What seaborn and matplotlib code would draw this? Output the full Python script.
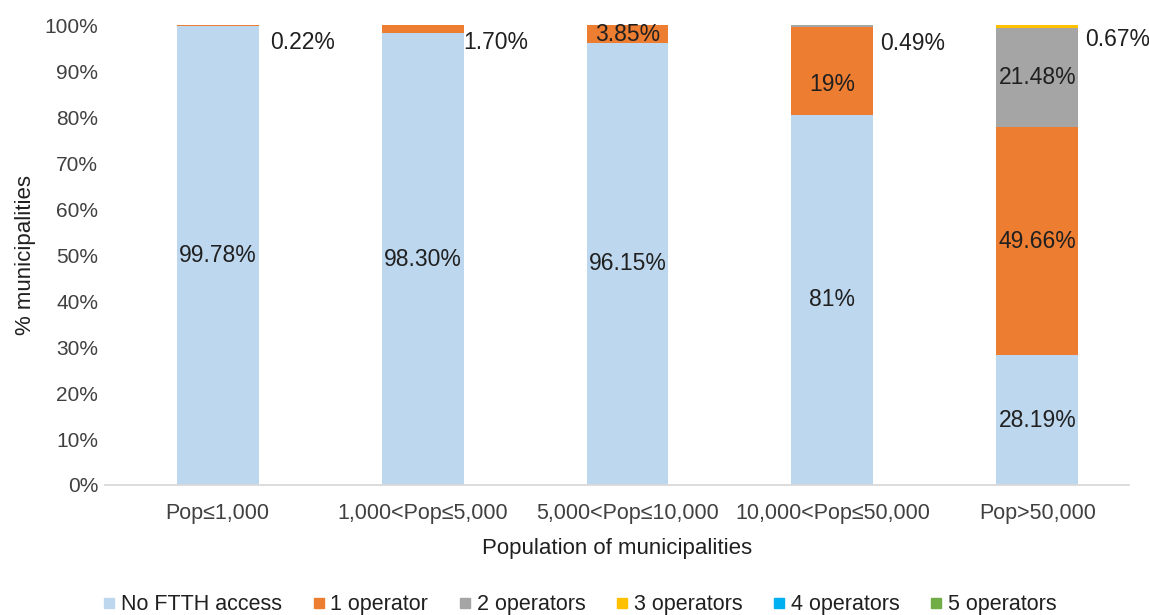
import matplotlib
matplotlib.use("Agg")
import matplotlib.pyplot as plt
import numpy as np
import pandas as pd
import seaborn as sns
from matplotlib.lines import Line2D

# Share of municipalities by number of FTTH operators, per population band
categories = ["Pop≤1,000", "1,000<Pop≤5,000", "5,000<Pop≤10,000",
              "10,000<Pop≤50,000", "Pop>50,000"]
series_names = ["No FTTH access", "1 operator", "2 operators",
                "3 operators", "4 operators", "5 operators"]
no_ftth = [99.78, 98.30, 96.15, 80.51, 28.19]
op1 = [0.22, 1.70, 3.85, 19.00, 49.66]
op2 = [0.00, 0.00, 0.00, 0.49, 21.48]
op3 = [0.00, 0.00, 0.00, 0.00, 0.67]
op4 = [0.00, 0.00, 0.00, 0.00, 0.00]
op5 = [0.00, 0.00, 0.00, 0.00, 0.00]
colors = ["#BDD7EE", "#ED7D31", "#A5A5A5", "#FFC000", "#00B0F0", "#70AD47"]

series = [no_ftth, op1, op2, op3, op4, op5]

sns.set_theme(style="white")
plt.rcParams["font.family"] = ["Liberation Sans", "DejaVu Sans"]

fig = plt.figure(figsize=(11.49, 6.15), dpi=100)
ax = fig.add_axes([0.0914, 0.2114, 0.8916, 0.7476])

# Stacked bars, each series sitting on the running total of the ones below
df = pd.DataFrame({"category": categories})
base = np.zeros(len(categories))
for k, vals in enumerate(series):
    vals = np.array(vals)
    if vals.sum() > 0:
        df["value"] = vals
        sns.barplot(data=df, x="category", y="value", color=colors[k],
                    saturation=1, width=0.4, ax=ax, linewidth=0,
                    order=categories, bottom=base.copy())
    base = base + vals

ax.set_xlim(-0.55, 4.45)
ax.set_ylim(0, 100)
ax.set_yticks(np.arange(0, 101, 10))
ax.set_yticklabels([f"{v}%" for v in range(0, 101, 10)], fontsize=15,
                   color="#404040")
ax.tick_params(axis="x", labelsize=15.5, colors="#404040", length=0, pad=13)
ax.tick_params(axis="y", length=0, pad=5)
for side in ["top", "right", "left"]:
    ax.spines[side].set_visible(False)
ax.spines["bottom"].set_color("#D9D9D9")
ax.spines["bottom"].set_linewidth(1.3)
ax.set_xlabel("Population of municipalities", fontsize=16, color="#202020",
              labelpad=10)
ax.set_ylabel("% municipalities", fontsize=16, color="#202020", labelpad=6)

# Value labels
label_kw = dict(fontsize=16.5, color="#202020")
half_w = 0.2
side_gap = [0.055, 0.0, 0.0, 0.035, 0.035]
side_y = [96.2, 96.2, 96.2, 96.0, 96.9]
for i in range(len(categories)):
    bottom = 0.0
    for k, vals in enumerate(series):
        v = vals[i]
        if v <= 0:
            continue
        decimals = 0 if i == 3 and k < 2 else 2
        txt = f"{v:.{decimals}f}%"
        if v >= 3:
            y = bottom + v / 2
            if i == 3 and k == 1:
                y -= 3
            ax.text(i, y, txt, ha="center", va="center", **label_kw)
        bottom += v
    # Thin top segment labelled beside the bar
    top_k = max(k for k, vals in enumerate(series) if vals[i] > 0)
    v = series[top_k][i]
    if v < 3:
        ax.text(i + half_w + side_gap[i], side_y[i], f"{v:.2f}%", ha="left",
                va="center", **label_kw)

# Legend
handles = [Line2D([], [], marker="s", linestyle="none", markersize=7,
                  markerfacecolor=c, markeredgecolor=c) for c in colors]
fig.legend(handles, series_names, loc="center", bbox_to_anchor=(0.505, 0.017),
           ncol=6, frameon=False, fontsize=15.5, handlelength=0.5,
           handletextpad=0.3, columnspacing=1.45, labelcolor="#202020")

fig.savefig("out.png", dpi=100)
